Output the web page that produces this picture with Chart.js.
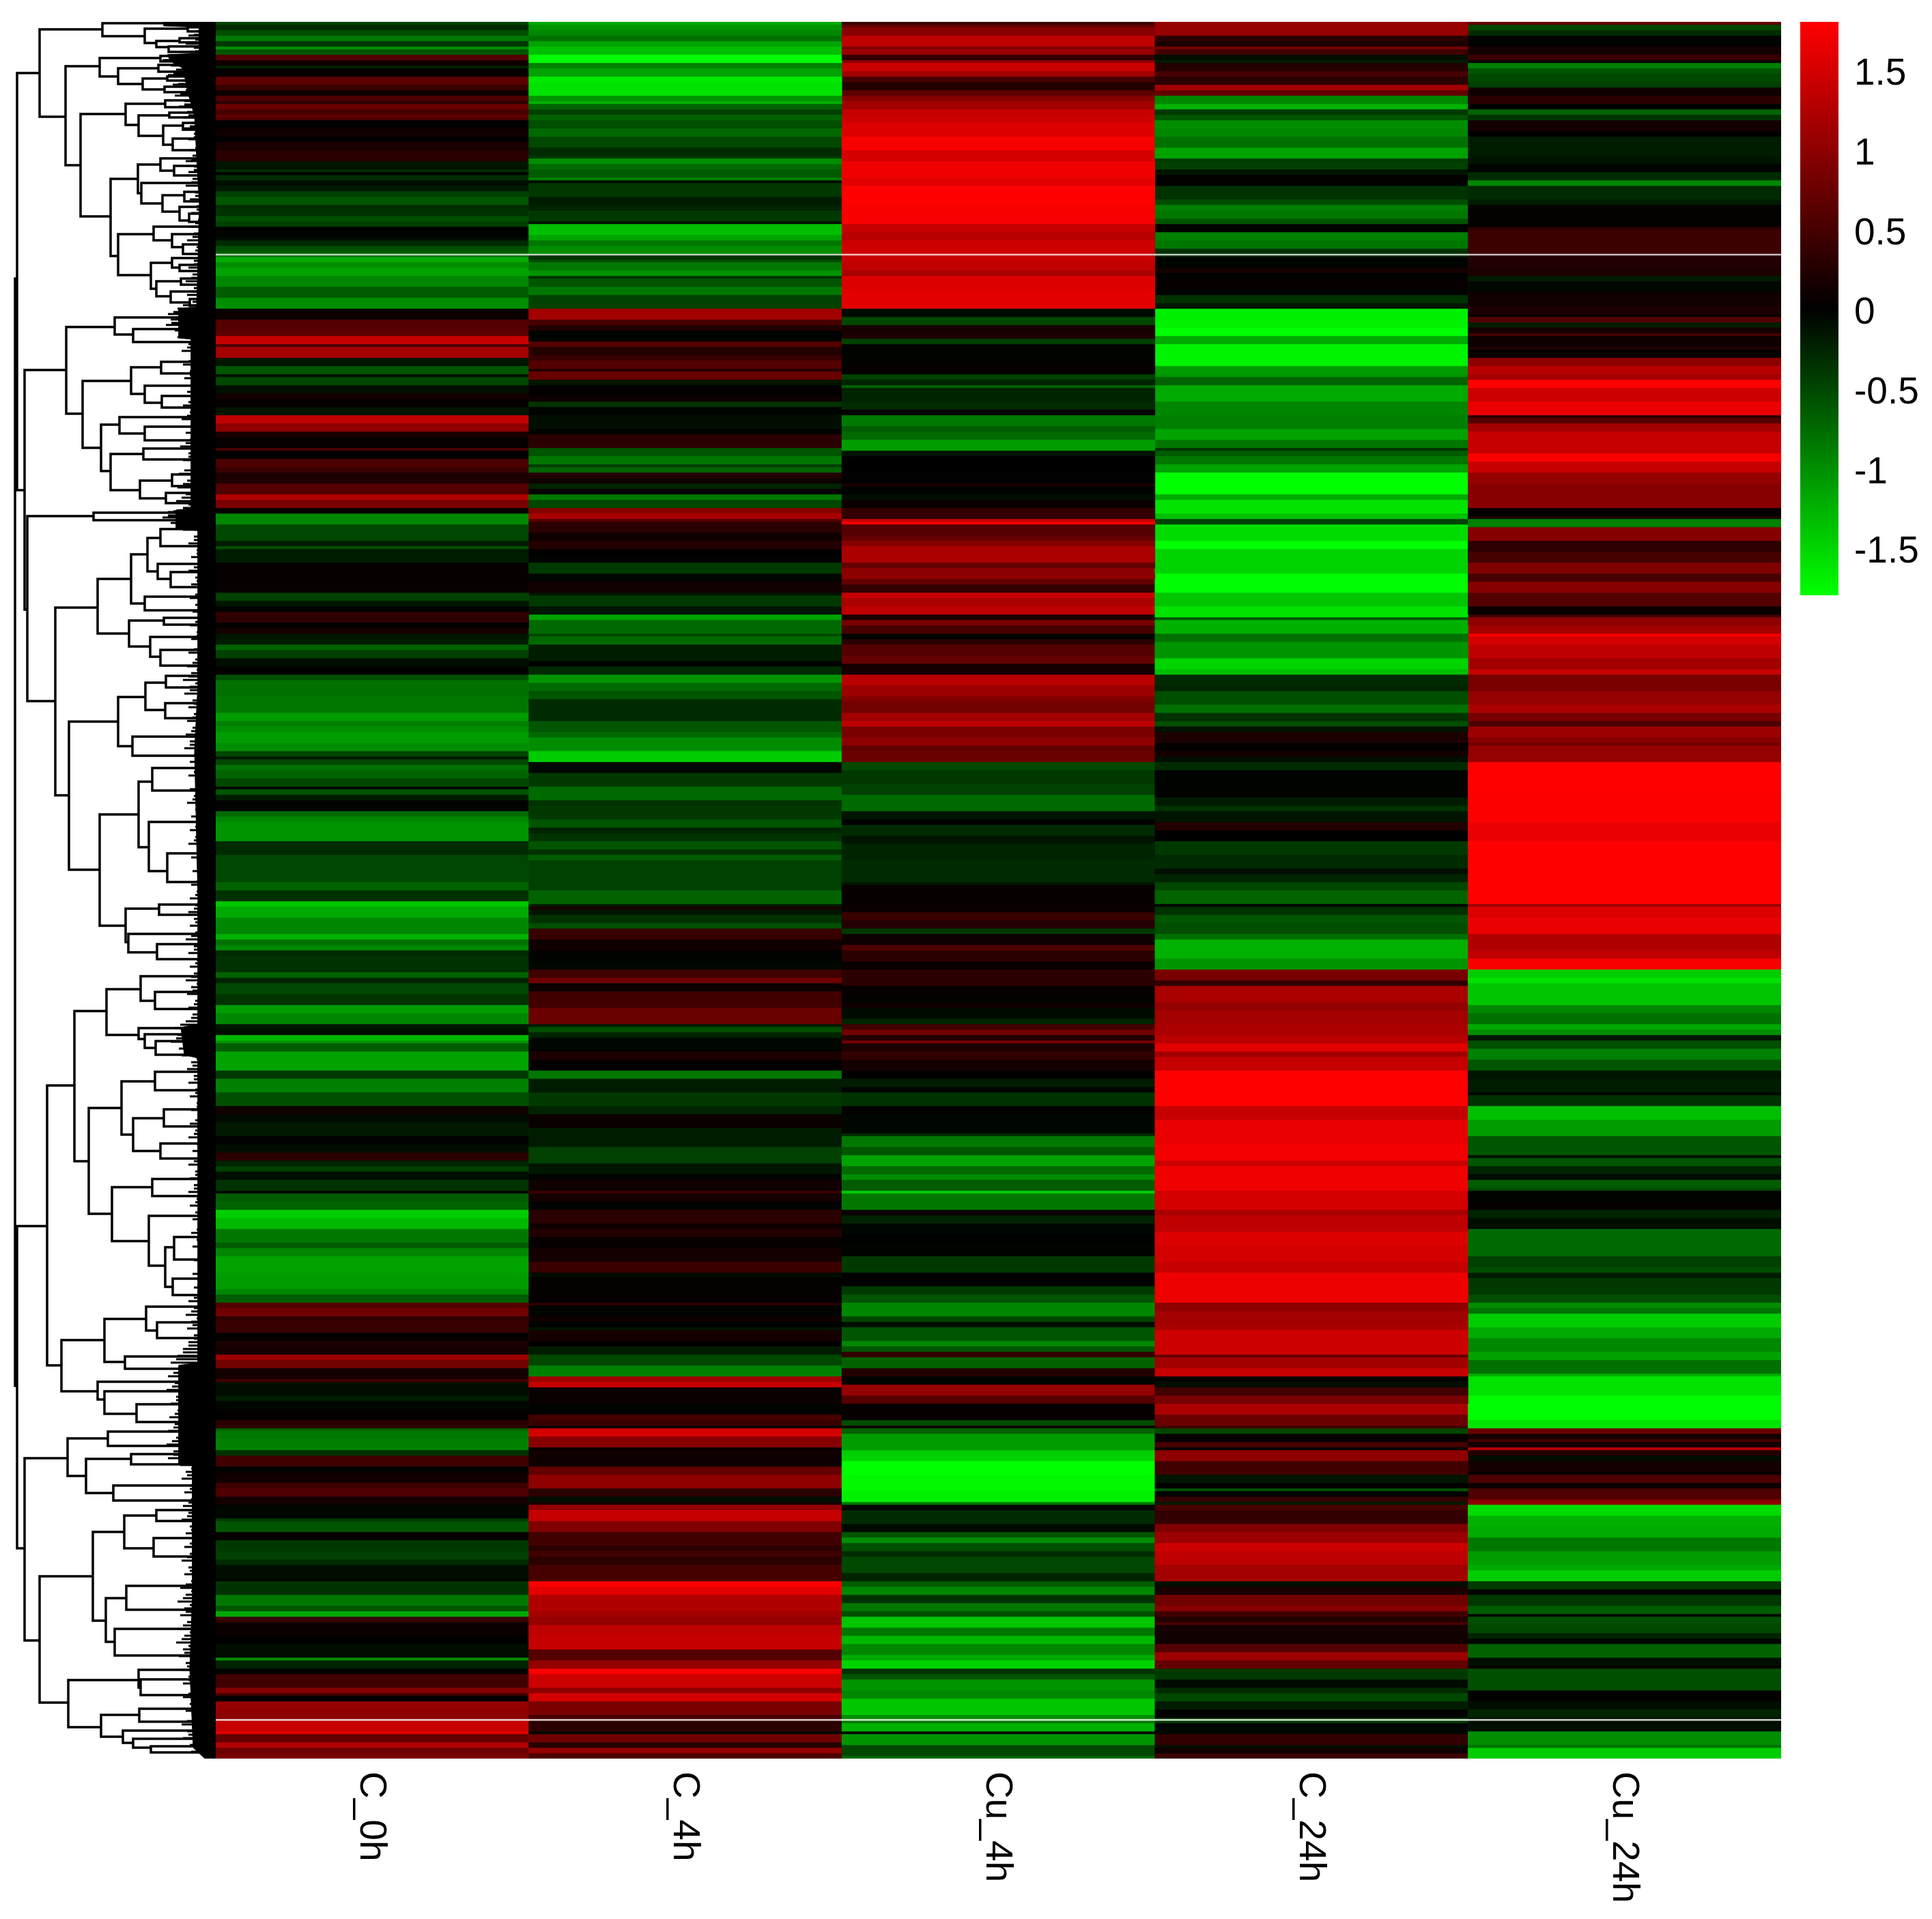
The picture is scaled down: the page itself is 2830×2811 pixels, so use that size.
<!DOCTYPE html>
<html>
<head>
<meta charset="utf-8">
<style>
  html, body { margin: 0; background: #fff; overflow: hidden; }
  #figure { position: relative; width: 2830px; height: 2811px; }
  #figure canvas { position: absolute; }
</style>
<script src="https://cdn.jsdelivr.net/npm/chart.js@4"></script>
</head>
<body>
<div id="figure">
  <canvas id="dendro" width="316" height="2544" style="left:0;top:32px"></canvas>
  <canvas id="heat" width="2293" height="2779" style="left:316px;top:32px"></canvas>
  <canvas id="key" width="193" height="924" style="left:2637px;top:-10px"></canvas>
</div>
<script>
const columnNames = ['C_0h', 'C_4h', 'Cu_4h', 'C_24h', 'Cu_24h'];
const rowCount = 636;
const keyTicks = [1.5, 1, 0.5, 0, -0.5, -1, -1.5];
const keyRange = [-1.8, 1.8];

// rows with no value (the pale lines across the map)
const missingRows = [[85, 85.5], [621.6, 622.1]];

// each band is [last row, value], it starts where the previous one ended
const bandsC0h = [[1,-.5],[3,-.3],[5,-.55],[7,-.85],[9,-.4],[10,-1],[12,-.6],[14,.6],[16,.1],[17,-.25],[20,.05],[23,.65],[25,.4],[27,.1],[29,.55],[30,.3],[32,.75],[34,.5],[35,.7],[36,.55],[39,0],[42,.12],[44,0],[47,.18],[51,.28],[54,-.15],[55,-.3],[56,0],[58,-.3],[60,-.1],[62,-.18],[64,-.45],[67,-.6],[68,-.3],[71,-.35],[73,-.55],[75,-.45],[79,-.02],[80,-.1],[82,-.3],[84,-.55],[86,-.7],[88,-1.2],[90,-1],[93,-1.15],[97,-.95],[101,-.65],[105,-1],
  [109,.08],[113,.6],[115,.65],[118,1.4],[119,.5],[123,1.15],[126,-.15],[129,-.6],[130,-.1],[133,-.5],[136,-.1],[138,.15],[141,.05],[144,-.15],[147,1.35],[150,1],[152,.2],[156,.05],[157,.5],[160,.02],[163,.55],[165,.4],[169,.2],[173,.6],[175,1.25],[178,.85],[180,.02],[184,-.95],[190,-.5],[192,-.2],[193,-.6],[198,-.2],[209,.05],
  [212,-.45],[214,-.15],[216,-.02],[218,.35],[220,.3],[222,.02],[224,.15],[226,-.15],[228,-.2],[230,-.7],[233,-.45],[236,-.1],[239,.03],[241,-.55],[247,-.8],[253,-.85],[256,-1.1],[258,-.9],[260,-1],[264,-1.1],[267,-1],[269,-.5],[270,-.15],[272,-.5],[274,-.8],[277,-.7],[280,-.5],[281,-.05],[283,-.6],[285,-.2],[289,-.02],[291,-.75],[293,-.95],[300,-1.05],[303,-.3],[305,-.3],[315,-.5],
  [318,-.7],[322,-.35],[324,-1.4],[328,-1.2],[334,-.95],[336,-1.25],[338,-.8],[340,-.95],[342,-.3],[348,-.35],[350,-.7],[352,-.25],[356,-.5],[360,-.35],[363,-1.1],[367,-.95],[369,-.15],[371,-.1],[373,-1.3],[374,-1.05],[377,-.65],[384,-1.15],[387,-.4],[392,-.9],[397,-.55],[400,.12],[403,-.08],[408,-.18],[411,-.01],[414,-.1],[417,.3],[419,-.25],
  [421,-.45],[424,-.1],[428,-.35],[429,-.05],[432,-.65],[435,-.7],[438,-1.45],[442,-1.3],[447,-.85],[449,-.65],[452,-.95],[458,-1.15],[464,-1.1],[466,-.95],[469,-.65],[471,.6],[474,.8],[475,.3],[480,.4],[481,-.02],[483,.03],[485,.2],[488,.15],[490,1.1],[493,.8],[497,.15],[498,.5],[503,-.1],[505,-.2],[508,-.04],[512,.03],[515,.3],[516,-.7],[519,-.85],[523,-.9],[525,-.35],
  [529,.45],[531,-.02],[533,.1],[535,.15],[537,.45],[540,.55],[543,.15],[548,-.05],[549,-.4],[553,-.6],[556,.05],[560,-.4],[563,-.45],[565,-.3],[570,-.1],[571,-.02],[576,-.35],[580,-.85],[582,-.6],[584,-1.2],[586,.4],[591,.08],[594,.01],[599,-.1],[600,-1],[603,-.25],[605,-.03],[610,.45],[612,.95],[613,.45],[615,0],[618,1.05],[622,1],[626,1.4],[627,1.6],[630,.7],[632,1.25],[634,.75],[636,.85]];

const bandsC4h = [[1,-1.2],[3,-1.05],[5,-.95],[7,-.8],[9,-1.15],[12,-1.35],[15,-1.78],[17,-.9],[20,-1.15],[22,-1.65],[27,-1.6],[29,-1.05],[30,-1.25],[32,-.7],[34,-.45],[36,-.7],[39,-.55],[42,-.75],[46,-.5],[49,-.3],[50,-.4],[52,-1],[54,-.75],[57,-.65],[58,-.9],[59,-.1],[64,-.4],[67,-.2],[69,-.25],[73,-.4],[74,-.1],[78,-1.35],[80,-1.15],[82,-.85],[85,-1],[87,-.35],[88,-.55],[91,-.85],[93,-1.05],[94,-.35],[97,-.6],[100,-.85],[105,-.45],
  [109,1.15],[111,.5],[113,.25],[117,-.03],[119,.6],[122,.25],[124,.4],[127,.6],[128,.25],[131,.75],[133,-.15],[137,.03],[139,.1],[141,-.35],[144,-.03],[149,-.1],[151,-.02],[156,.3],[159,-.6],[162,-.85],[163,-.4],[165,-.7],[167,.25],[169,.1],[171,-.25],[173,.05],[175,-.85],[178,-.5],[180,.95],[182,1.2],[183,.6],[187,.3],[190,.1],[193,.25],[196,0],[198,-.03],[202,-.4],[204,-.05],[205,-.02],[209,.12],
  [210,-.15],[214,-.4],[217,-.15],[219,-1.15],[224,-.75],[225,-.5],[228,-.75],[234,-.2],[236,-.02],[239,-.3],[242,-1.05],[245,-.75],[248,-.6],[256,-.3],[260,-.6],[262,-.75],[267,-1],[271,-1.45],[275,-.05],[280,-.4],[285,-.75],[287,-.35],[292,-.4],[295,-.6],[297,-.25],[300,-.35],[303,-.6],[305,-.35],[307,-.65],[315,-.45],
  [318,-.45],[323,-.7],[324,-.2],[325,.2],[327,-.15],[330,-.35],[332,-.55],[336,.4],[340,.12],[344,-.02],[347,-.05],[350,.45],[352,.8],[355,.08],[361,.45],[367,.75],[368,-.2],[370,-.55],[372,-.25],[376,-.05],[377,-.03],[380,.2],[384,.03],[387,-.85],[392,-.2],[397,-.4],[400,-.25],[405,.08],[412,-.2],[418,-.45],
  [422,-.15],[424,-.02],[428,.12],[429,.4],[432,.15],[435,-.02],[440,.3],[442,.1],[445,.25],[449,.04],[454,.15],[458,.4],[460,-.08],[469,.03],[470,.3],[474,-.03],[476,.12],[478,-.02],[479,-.15],[483,.15],[485,.01],[488,-.2],[492,-.5],[496,-.9],[498,1.1],[500,1.4],[502,.05],[506,.08],[510,-.02],[512,.5],[514,.4],[515,-.02],[518,1.5],[522,.95],[523,.05],[525,.12],
  [527,.1],[529,.1],[532,.7],[537,1],[540,.3],[542,-.1],[543,.2],[545,1.05],[549,1.4],[553,.9],[558,.45],[560,.3],[562,.45],[565,.3],[571,.5],[573,1.8],[576,1.6],[582,1.25],[584,1.15],[587,1.05],[591,1.35],[596,1.4],[600,.6],[603,1.05],[605,1.8],[610,1.45],[612,1],[615,1.5],[620,.85],[622,.5],[626,.3],[627,-.05],[630,.8],[632,.25],[634,1.05],[636,.55]];

const bandsCu4h = [[1,.4],[2,.7],[5,.95],[9,1.35],[10,.9],[12,1.1],[14,.35],[15,1],[18,1.45],[20,1.15],[22,.5],[25,.25],[27,.65],[29,.95],[32,1.15],[34,1.4],[37,1.45],[42,1.55],[47,1.75],[51,1.5],[57,1.7],[60,1.6],[67,1.8],[74,1.75],[77,1.4],[80,1.3],[85,1.45],[88,1.4],[91,1.35],[93,1.2],[98,1.55],[105,1.6],
  [108,-.08],[111,-.5],[113,.15],[116,.2],[118,-.45],[125,-.02],[129,.03],[131,-.45],[133,-.25],[134,-.7],[139,-.25],[142,-.3],[144,.03],[148,-.85],[150,-.65],[153,-.75],[157,-1.1],[159,-.15],[164,0],[169,-.01],[170,.2],[173,-.03],[175,-.1],[178,.08],[182,.35],[183,1.4],[184,1.75],[188,.6],[190,.7],[192,.95],[198,1.2],[200,.7],[204,1],[206,.7],[209,.35],
  [211,1.4],[214,1.2],[217,1.35],[219,.2],[221,.85],[224,.5],[226,-.03],[228,.3],[232,.6],[235,.7],[239,.15],[243,1.3],[247,1.1],[249,.9],[253,.8],[256,1.15],[258,1.35],[262,.85],[265,1],[267,.7],[271,.75],[274,-.5],[279,-.4],[283,-.45],[289,-.75],[292,-.15],[294,0],[298,-.3],[301,-.15],[307,-.25],[315,-.3],
  [316,-.15],[323,.05],[326,.08],[329,.4],[332,.25],[334,-.4],[338,.1],[340,.55],[344,.3],[347,.08],[353,.3],[357,.05],[359,-.02],[361,.1],[365,-.08],[367,-.25],[369,.45],[371,.8],[373,.25],[374,.85],[377,.2],[380,.35],[384,.15],[387,.02],[390,-.2],[392,-.03],[397,-.35],[400,.03],[407,-.05],[408,-.3],[412,-.85],[415,-.6],[419,-1.15],
  [422,-.75],[424,-1],[428,-.65],[429,-1.45],[435,-.85],[437,.08],[440,-.25],[444,-.05],[447,0],[452,-.03],[458,-.4],[463,-.01],[466,-.4],[469,-.6],[474,-.95],[476,-.5],[478,-.1],[483,-.6],[485,-.95],[487,-.6],[489,.35],[493,-.7],[496,.25],[499,-.03],[503,1.05],[506,.6],[512,.05],[514,-.55],[515,.1],[517,-.7],[523,-1.1],[525,-1.45],
  [527,-1.5],[532,-1.8],[538,-1.75],[542,-1.7],[543,-.85],[545,-.02],[550,-.3],[553,-.08],[555,-.6],[557,-1],[560,-.55],[562,-.3],[568,-.5],[571,-.25],[573,-.65],[576,-.95],[579,-.35],[582,-.85],[584,-.55],[588,-1.4],[591,-.85],[594,-1.3],[598,-.95],[600,-1.2],[603,-1.5],[605,-.35],[607,-.6],[611,-1.05],[614,-.95],[620,-1.4],[622,-1],[623,-.85],[626,-1.25],[627,-.05],[631,-1.05],[635,-.5],[636,-.75]];

const bandsC24h = [[5,1.05],[7,.3],[9,.2],[10,.85],[12,.45],[14,-.1],[15,-.2],[18,.25],[20,.5],[23,.3],[25,1.15],[27,.7],[30,-.95],[32,-1.25],[34,-.4],[36,-.6],[39,-1],[42,-.95],[46,-.8],[50,-1.15],[51,-.4],[54,-.45],[56,-.15],[59,.02],[60,0],[65,-.35],[67,-.55],[69,-.9],[72,-.85],[74,-.6],[77,-.02],[80,-.9],[83,-.85],[86,-.35],[90,-.03],[92,.15],[94,0],[98,.05],[100,-.03],[103,-.35],[105,-.15],
  [112,-1.7],[115,-1.8],[118,-1.2],[126,-1.72],[129,-1.1],[130,-1.05],[133,-.7],[139,-1.2],[144,-.95],[149,-.9],[153,-1.15],[156,-.85],[157,-.35],[159,-.65],[162,-.85],[165,-1.15],[173,-1.8],[175,-1.2],[180,-1.6],[182,-1.35],[184,-.45],[190,-1.55],[193,-1.8],[202,-1.5],[209,-1.78],
  [214,-1.4],[218,-1.6],[219,-.6],[224,-1.25],[227,-.8],[233,-1.05],[237,-1.5],[239,-1.35],[243,-.3],[245,-.25],[250,-.55],[253,-.8],[256,-.35],[258,-.55],[260,-.12],[264,.2],[267,.03],[269,.15],[271,-.1],[274,-.3],[284,-.02],[287,-.2],[289,-.35],[293,-.15],[296,.25],[300,0],[305,-.4],[310,-.3],[312,-.1],[315,-.25],
  [318,-.5],[323,-.7],[324,-.02],[327,-.35],[330,-.6],[334,-.55],[336,-.8],[343,-1.25],[347,-1.05],[351,.85],[353,.35],[359,1.2],[362,1.05],[367,1.15],[371,1.2],[374,1.3],[377,1.6],[379,1.15],[384,1.4],[397,1.8],[402,1.4],[411,1.65],[417,1.72],[419,1.45],
  [428,1.7],[435,1.5],[437,1.2],[443,1.35],[448,1.55],[454,1.5],[458,1.4],[469,1.68],[472,1],[477,1.15],[479,1.2],[488,1.45],[489,.7],[493,1.15],[496,1.4],[498,-.03],[500,-.1],[503,.45],[506,.85],[510,1.2],[514,.75],[515,.45],[517,-.5],[520,.05],[522,.5],[523,0],
  [527,1],[532,.45],[535,-.15],[537,.03],[538,-.6],[540,-.02],[542,.35],[543,-.2],[545,.5],[550,.35],[553,.9],[557,1.1],[560,1.45],[565,1.35],[571,1.15],[573,-.1],[576,.2],[580,.8],[582,.95],[584,.45],[586,.25],[587,.5],[590,.15],[594,.12],[597,.6],[600,1.1],[603,.7],[607,-.4],[610,-.08],[612,-.3],[615,-.5],[618,-.2],[621,-.01],[623,-.4],[624,0],[627,-.05],[631,.35],[632,-.1],[634,.1],[636,.4]];

const bandsCu24h = [[1,.7],[3,-.5],[5,-.3],[9,-.02],[12,.15],[14,.4],[15,.05],[17,-.9],[19,-.6],[22,-.5],[24,-.45],[27,.1],[30,.3],[32,-.02],[34,-.7],[36,-.35],[40,.15],[42,0],[49,-.2],[52,-.15],[55,-.02],[58,-.3],[60,-.95],[65,-.3],[67,-.2],[75,.03],[76,.3],[85,.42],[90,.25],[93,.2],[95,-.2],[99,-.05],[104,.12],
  [107,.2],[108,.05],[110,.6],[112,-.2],[114,.15],[115,.5],[119,.1],[120,.25],[123,.03],[126,1],[129,1.3],[131,1.15],[134,1.8],[139,1.45],[144,1.65],[145,.3],[147,.6],[150,1.15],[158,1.4],[161,1.75],[165,1.4],[169,1.05],[173,.95],[178,.95],[181,.03],[182,.2],[185,-.9],[190,.95],[194,.3],[198,.5],[202,.9],[205,.5],[209,.95],
  [214,.6],[217,.08],[218,.45],[221,1],[224,1.15],[225,1.75],[228,1.5],[233,1.35],[237,1.15],[239,1.4],[245,.85],[250,1.05],[253,1.2],[256,.85],[258,.55],[262,1.1],[264,.95],[265,.8],[271,1.05],[280,1.8],[293,1.78],[300,1.65],[315,1.8],
  [323,1.8],[324,1.1],[328,1.55],[334,1.65],[340,1.25],[343,1.35],[347,1.75],[350,-1.45],[352,-1.6],[360,-1.4],[363,-.95],[367,-.8],[369,-1.2],[371,-1],[373,-.15],[376,-.55],[380,-.9],[384,-.6],[387,-.15],[392,-.2],[393,-.03],[397,-.35],[402,-1.35],[408,-1.1],[415,-.6],[416,-.1],[419,-.6],
  [422,-.25],[424,-.08],[427,-.65],[428,-.5],[432,-.03],[435,.05],[438,-.25],[442,-.1],[452,-.75],[456,-.45],[458,-.55],[460,-.2],[466,-.4],[469,-.55],[471,-1],[473,-.8],[478,-1.45],[482,-1.2],[487,-.95],[490,-1.15],[495,-.8],[496,-1.25],[503,-1.6],[512,-1.78],[515,-1.6],[517,.75],[519,.15],[520,.5],[522,.15],[523,1.3],[525,.25],
  [527,-.1],[531,.15],[532,-.01],[535,.55],[537,.08],[541,.55],[543,1],[547,-1.55],[551,-1.25],[555,-1.2],[560,-.85],[565,-1.1],[567,-1.2],[571,-1.45],[574,-.4],[576,-.03],[580,-.4],[583,-.65],[584,-.05],[587,-.55],[590,-.5],[592,-.25],[594,-.05],[599,-.7],[602,-.1],[603,.05],[611,-.55],[615,.02],[618,-.1],[621,-.25],[626,-.1],[631,-1],[632,-.8],[636,-1.45]];

const columnBands = [bandsC0h, bandsC4h, bandsCu4h, bandsC24h, bandsCu24h];

// dendrogram merges: [depth, upper pos, upper child depth, lower pos, lower child depth]
const merges = [
  [22,408,25,2030,25],[25,107,58,718,36],[25,1796,69,2268,36],
  [58,43,150,171,96],[150,34,240,53,212],[212,42,275,63,229],[229,60,263,69,247],[263,56,290,62,290],[247,68,275,76,277],[275,40,285,46,300],
  [96,97,146,242,118],[146,85,235,112,173],[235,82,270,90,270],[173,100,232,123,209],[232,95,265,105,265],[209,115,245,131,241],[245,112,280,118,285],[241,127,285,135,275],
  [118,167,184,317,162],[184,152,242,183,203],[242,147,275,157,270],[203,169,248,199,239],[248,165,275,172,280],[239,184,268,212,253],[268,180,295,190,280],[253,203,281,220,274],
  [162,262,202,375,173],[202,241,235,283,207],[235,232,285,250,255],[255,243,280,257,262],[207,268,280,298,238],[238,286,270,310,263],[270,281,285,295,285],[263,303,285,323,277],[277,313,295,325,290],
  [173,343,225,403,221],[225,332,265,352,252],[252,343,285,362,268],[268,358,290,372,283],[221,385,252,423,229],[252,378,295,392,263],[263,388,295,397,295],[229,412,265,434,250],[265,408,285,417,285],[250,427,285,443,278],[278,438,290,448,285],
  [36,542,97,893,40],[40,756,137,1027,81],[137,751,228,762,210],
  [97,479,168,606,121],[168,465,218,490,195],[195,482,224,501,220],
  [121,558,192,656,148],[192,538,236,577,212],[236,530,275,547,243],[212,565,253,590,237],[237,580,290,597,255],
  [148,622,175,690,162],[175,611,265,635,212],[212,625,265,645,262],[162,665,210,718,205],[210,657,235,673,235],[205,704,252,730,243],[252,695,275,712,260],[243,722,270,737,268],
  [81,890,143,1165,101],[143,848,192,928,189],[192,812,216,884,212],[216,788,235,837,231],[235,775,265,800,250],[231,826,285,848,250],[250,838,280,860,275],[212,874,265,894,245],
  [189,909,240,947,220],[240,905,265,915,270],[220,933,265,962,235],[235,952,270,975,248],
  [101,1057,173,1274,146],[173,1021,213,1093,194],[213,1000,243,1040,242],[243,990,285,1007,265],[242,1030,280,1052,270],[194,1079,247,1107,242],
  [146,1193,203,1356,184],[203,1145,223,1241,218],[223,1125,265,1158,230],[218,1204,250,1276,245],[245,1250,270,1292,260],
  [184,1331,233,1380,188],[233,1325,270,1340,255],[188,1368,255,1395,230],[230,1383,275,1405,257],
  [69,1590,109,2000,90],[109,1481,156,1701,130],[156,1449,206,1516,203],[206,1430,262,1466,227],[227,1453,258,1478,258],[203,1506,245,1522,212],[212,1515,265,1535,228],[228,1525,265,1545,265],
  [130,1623,178,1778,164],[178,1584,227,1662,195],[227,1570,275,1597,255],[195,1638,240,1686,235],[240,1625,270,1650,265],[235,1675,265,1697,255],
  [164,1739,223,1818,218],[223,1727,247,1752,235],[218,1781,263,1854,242],[242,1827,255,1885,253],[255,1812,285,1845,268],[253,1873,280,1897,280],
  [90,1963,153,2038,143],[153,1932,214,1995,183],[214,1914,257,1949,230],[230,1937,265,1960,255],[183,1987,235,2005,205],
  [143,2024,225,2050,153],[153,2038,230,2071,200],[200,2057,243,2083,212],
  [36,2136,99,2403,58],[99,2107,158,2162,126],[158,2097,215,2118,215],[126,2137,192,2187,166],[192,2130,245,2145,212],[166,2176,237,2198,220],
  [58,2309,136,2494,100],[136,2244,182,2374,155],[182,2220,229,2268,225],[229,2212,270,2228,265],[225,2253,270,2280,240],
  [155,2341,185,2405,168],[185,2323,235,2358,203],[168,2386,233,2425,203],
  [100,2461,203,2530,148],[203,2446,265,2472,206],[206,2460,241,2483,237],
  [148,2512,204,2544,180],[204,2503,257,2522,242],[180,2535,248,2553,195],[195,2547,250,2560,221],[221,2558,262,2567,265]
];

// outline of the solid leaf block: [pos, depth]
const leafBlock = [[32,240],[38,240],[40,292],[78,292],[80,245],[90,250],[100,268],[135,275],[170,285],[230,288],[300,292],[380,290],[450,288],[452,262],[495,262],[497,280],[745,280],[747,258],[775,258],[777,290],[1000,290],[1100,285],[1320,290],[1500,290],[1505,265],[1545,270],[1550,290],[1996,290],[2000,262],[2145,262],[2147,282],[2330,282],[2445,278],[2560,283],[2576,300]];

// leaf tips sticking out of the block: [pos, depth]
const leafTips = [[46,300],[52,288],[58,298],[64,284],[70,296],[76,290],[88,250],[96,262],[102,270],[110,258],[118,278],[124,265],[132,284],[140,268],[148,282],[156,274],[164,286],[172,280],[180,292],[188,282],[196,296],[204,288],[212,300],[220,290],[228,294],[236,284],[244,296],[252,288],[262,294],[272,284],[282,298],[292,290],[302,300],[312,292],[322,302],[332,290],[342,296],[352,286],[362,300],[372,290],[382,296],[392,288],[402,294],[412,284],[422,296],[432,286],[442,294],[452,272],[460,258],[468,262],[476,255],[484,268],[494,272],[504,288],[514,278],[524,292],[534,280],[544,290],[554,282],[564,294],[574,286],[584,296],[594,280],[604,290],[614,278],[624,292],[634,284],[644,290],[654,276],[664,288],[674,280],[684,292],[694,274],[704,286],[714,272],[724,284],[734,270],[744,280],[750,258],[758,250],[766,262],[776,280],[786,296],[796,288],[806,300],[816,292],[826,304],[836,288],[846,298],[856,292],[866,302],[876,290],[886,298],[896,294],[906,304],[916,290],[926,300],[936,292],[946,306],[956,288],[966,298],[976,286],[986,292],[996,280],[1006,290],[1016,282],[1026,294],[1036,288],[1046,296],[1056,286],[1066,294],[1076,284],[1086,290],[1096,282],[1106,296],[1116,290],[1126,300],[1136,288],[1146,298],[1156,290],[1166,296],[1176,286],[1186,298],[1196,292],[1206,302],[1216,290],[1226,298],[1236,288],[1246,300],[1256,292],[1266,304],[1276,294],[1286,302],[1296,292],[1306,300],[1316,290],[1326,298],[1336,288],[1346,296],[1356,290],[1366,298],[1376,284],[1386,296],[1396,288],[1406,300],[1416,290],[1426,296],[1436,284],[1446,292],[1456,286],[1466,298],[1476,288],[1486,294],[1496,284],[1506,268],[1516,272],[1526,262],[1536,274],[1546,278],[1556,292],[1566,286],[1576,296],[1586,288],[1596,298],[1606,290],[1616,300],[1626,292],[1636,302],[1646,290],[1656,298],[1666,288],[1676,300],[1686,294],[1696,302],[1706,288],[1716,298],[1726,290],[1736,296],[1746,288],[1756,300],[1766,290],[1776,298],[1786,294],[1796,304],[1806,292],[1816,300],[1826,294],[1836,304],[1846,296],[1856,306],[1866,294],[1876,302],[1886,296],[1896,304],[1906,288],[1916,296],[1926,284],[1936,292],[1946,286],[1956,296],[1966,288],[1976,280],[1986,272],[1996,262],[2006,274],[2016,258],[2026,268],[2036,256],[2046,270],[2056,262],[2066,272],[2076,260],[2086,268],[2096,258],[2106,270],[2116,256],[2126,266],[2136,258],[2146,276],[2156,284],[2166,278],[2176,290],[2186,282],[2196,292],[2206,280],[2216,288],[2226,278],[2236,290],[2246,284],[2256,294],[2266,282],[2276,290],[2286,278],[2296,288],[2306,282],[2316,292],[2326,276],[2336,284],[2346,272],[2356,282],[2366,276],[2376,286],[2386,272],[2396,282],[2406,270],[2416,280],[2426,274],[2436,284],[2446,278],[2456,288],[2466,280],[2476,292],[2486,280],[2496,290],[2506,284],[2516,294],[2526,278],[2536,286],[2546,280],[2556,290],[2566,292]];

Chart.defaults.font.family = '"Liberation Sans", Arial, sans-serif';
Chart.defaults.animation = false;
Chart.defaults.responsive = false;
Chart.defaults.devicePixelRatio = 1;
Chart.defaults.plugins.legend.display = false;
Chart.defaults.plugins.tooltip.enabled = false;

const heatColor = (v) => {
    const level = Math.round(Math.min(Math.abs(v) / 1.8, 1) * 255);
    return v > 0 ? `rgb(${level},0,0)` : `rgb(0,${level},0)`;
};

// Heat map: one floating bar dataset per band position
const buildHeatDatasets = () => {
    const datasets = missingRows.map(row => ({
        data: columnNames.map(() => row),
        backgroundColor: 'rgba(255,255,255,0.75)',
        grouped: false
    }));
    const longest = Math.max(...columnBands.map(bands => bands.length));
    for (let j = 0; j < longest; j++) {
        datasets.push({
            data: columnBands.map(bands => bands[j] ? [j ? bands[j - 1][0] : 0, bands[j][0]] : null),
            backgroundColor: columnBands.map(bands => bands[j] ? heatColor(bands[j][1]) : 'transparent'),
            grouped: false
        });
    }
    return datasets;
};

const columnLabels = {
    id: 'columnLabels',
    afterDraw(chart) {
        const { ctx, scales, chartArea } = chart;
        ctx.save();
        ctx.fillStyle = '#000';
        ctx.font = '55px "Liberation Sans", Arial, sans-serif';
        ctx.textAlign = 'left';
        ctx.textBaseline = 'middle';
        columnNames.forEach((name, i) => {
            ctx.save();
            ctx.translate(scales.x.getPixelForValue(i) - 2, chartArea.bottom + 19);
            ctx.rotate(Math.PI / 2);
            ctx.fillText(name, 0, 0);
            ctx.restore();
        });
        ctx.restore();
    }
};

new Chart(document.getElementById('heat'), {
    type: 'bar',
    data: { labels: columnNames, datasets: buildHeatDatasets() },
    plugins: [columnLabels],
    options: {
        layout: { padding: { bottom: 235 } },
        datasets: { bar: { barPercentage: 1, categoryPercentage: 1, borderWidth: 0 } },
        scales: {
            x: { display: false },
            y: { display: false, reverse: true, min: 0, max: rowCount }
        }
    }
});

// Dendrogram: broken lines for the merges and leaf tips, a closed shape for the leaf block
const isTerminal = (depth, pos) => !merges.some(m => m[0] === depth && m[1] <= pos && m[3] >= pos);
const mergePoints = [];
merges.forEach(([depth, upper, upperChild, lower, lowerChild]) => {
    mergePoints.push(
        { x: isTerminal(upperChild, upper) ? 305 : upperChild, y: upper },
        { x: depth, y: upper },
        { x: depth, y: lower },
        { x: isTerminal(lowerChild, lower) ? 305 : lowerChild, y: lower },
        { x: NaN, y: NaN }
    );
});
const tipPoints = [];
leafTips.forEach(([pos, depth], i) => {
    tipPoints.push({ x: depth - 12, y: pos }, { x: 316, y: pos }, { x: NaN, y: NaN });
    const next = leafTips[i + 1];
    if (next) tipPoints.push({ x: next[1] - 4, y: pos + 5 }, { x: 316, y: pos + 5 }, { x: NaN, y: NaN });
});
const blockPoints = leafBlock.map(([pos, depth]) => ({ x: depth, y: pos }));
blockPoints.push({ x: 316, y: 2576 }, { x: 316, y: 32 });

new Chart(document.getElementById('dendro'), {
    type: 'scatter',
    data: {
        datasets: [
            { data: mergePoints, showLine: true, spanGaps: false, pointRadius: 0, borderColor: '#000', borderWidth: 3.5, borderJoinStyle: 'miter', borderCapStyle: 'square' },
            { data: tipPoints, showLine: true, spanGaps: false, pointRadius: 0, borderColor: '#000', borderWidth: 3 },
            { data: blockPoints, showLine: true, pointRadius: 0, borderColor: '#000', borderWidth: 1, backgroundColor: '#000', fill: 'shape' }
        ]
    },
    options: {
        scales: {
            x: { display: false, min: 0, max: 316 },
            y: { display: false, reverse: true, min: 32, max: 2576 }
        }
    }
});

// Colour key, the tick labels sit a little under their ticks like in the original
const keyLabels = {
    id: 'keyLabels',
    afterDraw(chart) {
        const { ctx, scales, chartArea } = chart;
        ctx.save();
        ctx.fillStyle = '#000';
        ctx.font = '55px "Liberation Sans", Arial, sans-serif';
        ctx.textAlign = 'left';
        ctx.textBaseline = 'middle';
        keyTicks.forEach(value => {
            ctx.fillText(String(value), chartArea.right + 23, scales.y.getPixelForValue(value) + 7);
        });
        ctx.restore();
    }
};

new Chart(document.getElementById('key'), {
    type: 'bar',
    data: {
        labels: ['key'],
        datasets: [{
            data: [keyRange],
            barPercentage: 1,
            categoryPercentage: 1,
            backgroundColor: (context) => {
                const { ctx, chartArea } = context.chart;
                if (!chartArea) return '#000';
                const gradient = ctx.createLinearGradient(0, chartArea.top, 0, chartArea.bottom);
                gradient.addColorStop(0, '#ff0000');
                gradient.addColorStop(0.5, '#000000');
                gradient.addColorStop(1, '#00ff00');
                return gradient;
            }
        }]
    },
    plugins: [keyLabels],
    options: {
        layout: { padding: { top: 42, right: 137, bottom: 42 } },
        scales: {
            x: { display: false },
            y: { display: false, min: keyRange[0], max: keyRange[1] }
        }
    }
});
</script>
</body>
</html>
